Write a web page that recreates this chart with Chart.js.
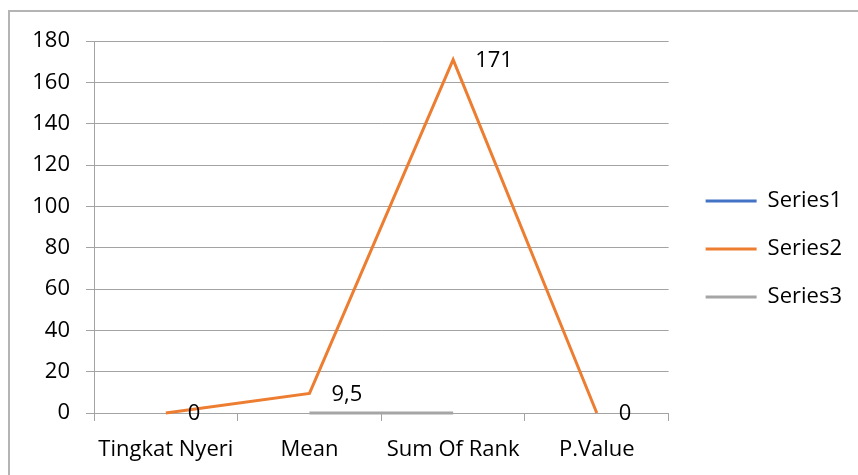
<!DOCTYPE html>
<html>
<head>
<meta charset="utf-8">
<script src="https://cdn.jsdelivr.net/npm/chart.js@4.4.1/dist/chart.umd.min.js"></script>
<style>
  html, body { margin: 0; padding: 0; background: #fff; }
  #wrap { position: relative; width: 858px; height: 475px; }
</style>
</head>
<body>
<div id="wrap"><canvas id="chart" width="858" height="475"></canvas></div>
<script>
// chart data
const categories = ['Tingkat Nyeri', 'Mean', 'Sum Of Rank', 'P.Value'];
const series1 = [null, null, null, null];
const series2 = [0, 9.5, 171, 0];
const series3 = [null, 0, 0, null];
const seriesNames = ['Series1', 'Series2', 'Series3'];
const seriesColors = ['#4472C4', '#ED7D31', '#A5A5A5'];
const yTicks = [0, 20, 40, 60, 80, 100, 120, 140, 160, 180];

const FONT = '"Open Sans", Lato, sans-serif';
const FS = 22;
const GRID = '#a3a3a3';

// outer frame (only top + left edges are visible in the picture)
const framePlugin = {
    id: 'frame',
    beforeDraw(chart) {
        const ctx = chart.ctx;
        ctx.save();
        ctx.strokeStyle = '#b4b4b4';
        ctx.lineWidth = 2;
        ctx.beginPath();
        ctx.moveTo(9, chart.height);
        ctx.lineTo(9, 11);
        ctx.lineTo(chart.width, 11);
        ctx.stroke();
        ctx.restore();
    }
};

// value labels to the right of Series2 points
const labelPlugin = {
    id: 'valueLabels',
    afterDatasetsDraw(chart) {
        const ctx = chart.ctx;
        const meta = chart.getDatasetMeta(1);
        ctx.save();
        ctx.font = FS + 'px ' + FONT;
        ctx.fillStyle = '#000';
        ctx.textAlign = 'left';
        ctx.textBaseline = 'middle';
        meta.data.forEach((pt, i) => {
            const v = series2[i];
            if (v === null) return;
            ctx.fillText(String(v).replace('.', ','), pt.x + 22, pt.y + 1);
        });
        ctx.restore();
    }
};

// move the legend block to where excel puts it
const legendShift = {
    id: 'legendShift',
    afterLayout(chart) {
        const lg = chart.legend;
        if (!lg) return;
        lg.left += 11;
        lg.right += 11;
        lg.top -= 9;
        lg.bottom -= 9;
    }
};

const ctx = document.getElementById('chart').getContext('2d');
new Chart(ctx, {
    type: 'line',
    data: {
        labels: categories,
        datasets: seriesNames.map((name, i) => ({
            label: name,
            data: [series1, series2, series3][i],
            borderColor: seriesColors[i],
            backgroundColor: seriesColors[i],
            borderWidth: 3,
            clip: false
        }))
    },
    options: {
        responsive: false,
        animation: false,
        layout: { padding: { top: 41, bottom: 0, left: 0, right: 17 } },
        elements: {
            line: { tension: 0, borderCapStyle: 'butt' },
            point: { radius: 0, hoverRadius: 0 }
        },
        scales: {
            x: {
                offset: true,
                grid: { offset: true, drawOnChartArea: false, drawTicks: true, tickLength: 8, color: GRID },
                border: { color: GRID },
                ticks: { font: { family: FONT, size: FS }, color: '#000', padding: 16, maxRotation: 0, autoSkip: false },
                afterFit(scale) { scale.height = 62; }
            },
            y: {
                min: 0,
                max: 180,
                afterBuildTicks(scale) { scale.ticks = yTicks.map(v => ({ value: v })); },
                grid: { color: GRID, tickLength: 8 },
                border: { color: GRID },
                ticks: { font: { family: FONT, size: FS }, color: '#000', padding: 16 },
                afterFit(scale) { scale.width = 94; }
            }
        },
        plugins: {
            legend: {
                position: 'right',
                labels: {
                    usePointStyle: true,
                    pointStyle: 'line',
                    pointStyleWidth: 51,
                    padding: 26,
                    color: '#000',
                    font: { family: FONT, size: FS }
                }
            },
            tooltip: { enabled: false }
        }
    },
    plugins: [framePlugin, labelPlugin, legendShift]
});
</script>
</body>
</html>
